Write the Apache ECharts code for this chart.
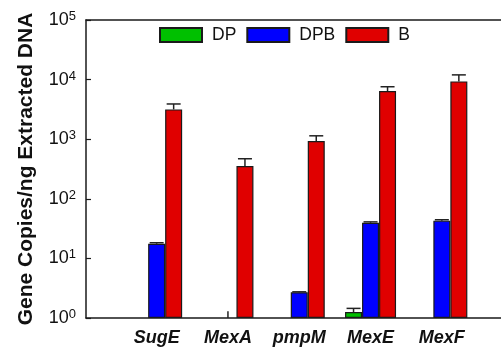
<!DOCTYPE html>
<html>
<head>
<meta charset="utf-8">
<script src="https://cdn.jsdelivr.net/npm/echarts@6/dist/echarts.min.js"></script>
<style>html,body{margin:0;padding:0;background:#fff;}#c{width:501px;height:349px;}</style>
</head>
<body>
<div id="c"></div>
<script>
var categories = ['SugE', 'MexA', 'pmpM', 'MexE', 'MexF'];
var seriesNames = ['DP', 'DPB', 'B'];
var dpValues  = [null, null, null, 1.26, null];
var dpUpper   = [null, null, null, 1.45, null];
var dpbValues = [17.6, null, 2.7, 39.6, 43];
var dpbUpper  = [18.3, 1.3, 2.75, 41, 44.5];
var bValues   = [3160, 355, 935, 6440, 9330];
var bUpper    = [3900, 470, 1140, 7590, 12000];
var yTickExponents = [0, 1, 2, 3, 4, 5];

var colors = ['#00c000', '#0000ff', '#e00000'];
var BAR_W = 17;
var offsets = [-BAR_W, 0, BAR_W];

function toData(arr) { return arr.map(function (v) { return v == null ? '-' : v; }); }
function errData(vals, ups) {
  var out = [];
  for (var i = 0; i < vals.length; i++) {
    if (ups[i] != null) out.push([i, vals[i] == null ? 1 : vals[i], ups[i], vals[i] == null ? 0 : 1]);
  }
  return out;
}

var valueSets = [dpValues, dpbValues, bValues];
var upperSets = [dpUpper, dpbUpper, bUpper];

var series = [];
for (var s = 0; s < 3; s++) {
  series.push({
    name: seriesNames[s], type: 'bar', xAxisIndex: 1, yAxisIndex: 1,
    barWidth: BAR_W, barGap: '0%', data: toData(valueSets[s]),
    itemStyle: { color: colors[s], borderColor: '#1a1a1a', borderWidth: 1.2 },
    emphasis: { disabled: true }, z: 2
  });
}
for (var s2 = 0; s2 < 3; s2++) {
  (function (k) {
    series.push({
      name: seriesNames[k] + '_err', type: 'custom', xAxisIndex: 1, yAxisIndex: 1,
      data: errData(valueSets[k], upperSets[k]), z: 5, silent: true,
      encode: { x: 0, y: 2 },
      renderItem: function (params, api) {
        var base = api.coord([api.value(0), api.value(1)]);
        var top = api.coord([api.value(0), api.value(2)]);
        var x = base[0] + offsets[k];
        var children = [{
          type: 'line', shape: { x1: x, y1: base[1], x2: x, y2: top[1] },
          style: { stroke: '#222', lineWidth: 1.5 }
        }];
        if (api.value(3) === 1) {
          children.push({
            type: 'line', shape: { x1: x - 7, y1: top[1], x2: x + 7, y2: top[1] },
            style: { stroke: '#222', lineWidth: 1.5 }
          });
        }
        return { type: 'group', children: children };
      }
    });
  })(s2);
}

var chart = echarts.init(document.getElementById('c'), null, { renderer: 'canvas' });
chart.setOption({
  animation: false,
  backgroundColor: '#fff',
  legend: {
    data: seriesNames, left: 159, top: 26, itemWidth: 42, itemHeight: 14, itemGap: 10,
    icon: 'rect', padding: 0,
    textStyle: { fontSize: 17.5, color: '#111', fontFamily: 'Liberation Sans, Arial, sans-serif', padding: [0, 0, 0, 5] }
  },
  grid: [
    { left: 86, right: 0, top: 20, height: 298, containLabel: false },
    { left: 121, right: 23.5, top: 20, height: 298, containLabel: false }
  ],
  xAxis: [
    { type: 'value', gridIndex: 0, position: 'bottom', min: 0, max: 1,
      axisLine: { show: true, lineStyle: { color: '#1a1a1a', width: 1.5 } },
      axisTick: { show: false }, axisLabel: { show: false }, splitLine: { show: false } },
    { type: 'category', gridIndex: 1, data: categories, position: 'bottom',
      axisLine: { show: false }, axisTick: { show: false }, splitLine: { show: false },
      axisLabel: { margin: 11, fontSize: 18, fontWeight: 'bold', fontStyle: 'italic', color: '#111',
        fontFamily: 'Liberation Sans, Arial, sans-serif' } },
    { type: 'value', gridIndex: 0, position: 'top', min: 0, max: 1,
      axisLine: { show: true, lineStyle: { color: '#1a1a1a', width: 1.5 } },
      axisTick: { show: false }, axisLabel: { show: false }, splitLine: { show: false } }
  ],
  yAxis: [
    { type: 'log', gridIndex: 0, logBase: 10, min: 1, max: 100000,
      name: 'Gene Copies/ng Extracted DNA', nameLocation: 'middle', nameGap: 49,
      nameTextStyle: { fontSize: 21, fontWeight: 'bold', color: '#111', fontFamily: 'Liberation Sans, Arial, sans-serif' },
      axisLine: { show: true, lineStyle: { color: '#1a1a1a', width: 1.5 } },
      axisTick: { show: true, inside: true, length: 5, lineStyle: { color: '#1a1a1a', width: 1.2 } },
      splitLine: { show: false }, minorTick: { show: false },
      axisLabel: {
        margin: 10,
        formatter: function (v) {
          var e = Math.round(Math.log(v) / Math.LN10);
          if (yTickExponents.indexOf(e) < 0) return '';
          return '{b|10}{s|' + e + '}';
        },
        rich: {
          b: { fontSize: 18, color: '#111', fontFamily: 'Liberation Sans, Arial, sans-serif', lineHeight: 20 },
          s: { fontSize: 13, color: '#111', fontFamily: 'Liberation Sans, Arial, sans-serif', verticalAlign: 'top', lineHeight: 20, padding: [0, 0, 8, 0] }
        }
      } },
    { type: 'log', gridIndex: 1, logBase: 10, min: 1, max: 100000, show: false,
      axisLine: { show: false }, splitLine: { show: false } }
  ],
  series: series
});
</script>
</body>
</html>
